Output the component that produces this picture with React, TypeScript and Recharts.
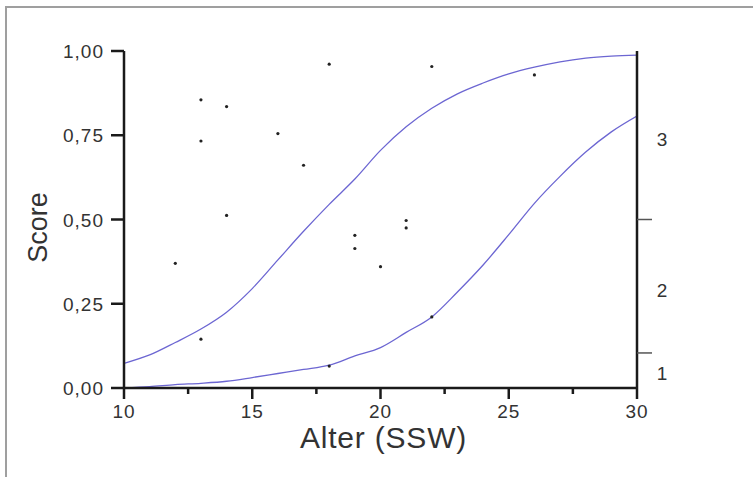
import React from "react";
import { ComposedChart, Line, Scatter, XAxis, YAxis } from "recharts";

// fitted curves, read at whole weeks
const ageSteps = [10, 11, 12, 13, 14, 15, 16, 17, 18, 19, 20, 21, 22, 23, 24, 25, 26, 27, 28, 29, 30];
const upperCurve = [0.073, 0.098, 0.135, 0.175, 0.225, 0.295, 0.38, 0.465, 0.545, 0.62, 0.705, 0.775, 0.83, 0.873, 0.905, 0.932, 0.952, 0.968, 0.979, 0.985, 0.988];
const lowerCurve = [0.0, 0.004, 0.01, 0.014, 0.02, 0.031, 0.043, 0.055, 0.068, 0.095, 0.12, 0.165, 0.211, 0.285, 0.365, 0.455, 0.548, 0.628, 0.7, 0.76, 0.807];

// observed cases
const obsAge = [12, 13, 13, 13, 14, 14, 16, 17, 18, 18, 19, 19, 20, 21, 21, 22, 22, 26];
const obsScore = [0.37, 0.855, 0.733, 0.145, 0.835, 0.512, 0.755, 0.661, 0.961, 0.065, 0.453, 0.414, 0.36, 0.497, 0.475, 0.954, 0.211, 0.929];

const scoreTicks = [0, 0.25, 0.5, 0.75, 1];
const ageMajorTicks = [10, 15, 20, 25, 30];
const ageMinorTicks = [12.5, 17.5, 22.5, 27.5];
const classBounds = [0.104, 0.5];
const classLabels = ["1", "2", "3"];
const classLabelPos = [0.045, 0.29, 0.74];

const curveData = ageSteps.map((x, i) => ({ x, upper: upperCurve[i], lower: lowerCurve[i] }));
const pointData = obsAge.map((x, i) => ({ x, y: obsScore[i] }));
const rightTicks = [...classBounds, ...classLabelPos].sort((a, b) => a - b);

const AXIS = "#1a1a1a";
const TEXT = "#333";
const FONT = "'Liberation Sans', Arial, sans-serif";
const CURVE = "#6c66d2";

const AgeTick = (props: any) => {
  const { x, y, payload } = props;
  const major = ageMajorTicks.includes(payload.value);
  return (
    <g>
      <line x1={x} x2={x} y1={y} y2={y + (major ? 11 : 6)} stroke={AXIS} strokeWidth={2.5} />
      {major && (
        <text x={x} y={y + 30} textAnchor="middle" fontSize={19} letterSpacing={1} fill={TEXT} fontFamily={FONT}>
          {payload.value}
        </text>
      )}
    </g>
  );
};

const ScoreTick = (props: any) => {
  const { x, y, payload } = props;
  return (
    <g>
      <line x1={x - 13} x2={x} y1={y} y2={y} stroke={AXIS} strokeWidth={2.5} />
      <text x={x - 20} y={y + 7} textAnchor="end" fontSize={19} letterSpacing={1} fill={TEXT} fontFamily={FONT}>
        {payload.value.toFixed(2).replace(".", ",")}
      </text>
    </g>
  );
};

const ClassTick = (props: any) => {
  const { x, y, payload } = props;
  const v = payload.value;
  const li = classLabelPos.indexOf(v);
  if (li >= 0) {
    return (
      <text x={x + 25} y={y + 7} textAnchor="middle" fontSize={19} fill={TEXT} fontFamily={FONT}>
        {classLabels[li]}
      </text>
    );
  }
  return <line x1={x} x2={x + 15} y1={y} y2={y} stroke="#555" strokeWidth={1.5} />;
};

const Dot = (props: any) => <circle cx={props.cx} cy={props.cy} r={1.6} fill="#222" />;

export default function App() {
  return (
    <div style={{ position: "relative", margin: -8, width: 753, height: 477, background: "#fff" }}>
      <ComposedChart width={753} height={477} margin={{ top: 51, right: 0, bottom: 0, left: 0 }}>
        <XAxis
          xAxisId="bottom"
          dataKey="x"
          type="number"
          domain={[10, 30]}
          ticks={[...ageMajorTicks, ...ageMinorTicks].sort((a, b) => a - b)}
          interval={0}
          height={89}
          tickSize={0}
          tickMargin={0}
          tick={<AgeTick />}
          axisLine={{ stroke: AXIS, strokeWidth: 2.5 }}
          allowDataOverflow
          label={{
            content: (p: any) => (
              <text
                x={p.viewBox.x + p.viewBox.width / 2 + 3}
                y={p.viewBox.y + 60}
                textAnchor="middle"
                fontSize={30}
                letterSpacing={0.8}
                fill={TEXT}
                fontFamily={FONT}
              >
                Alter (SSW)
              </text>
            ),
          }}
        />
        <XAxis xAxisId="top" orientation="top" type="number" domain={[10, 30]} height={0} tick={false} tickLine={false} axisLine={{ stroke: AXIS, strokeWidth: 2.5 }} />
        <YAxis
          yAxisId="left"
          type="number"
          domain={[0, 1]}
          ticks={scoreTicks}
          interval={0}
          width={124}
          tickSize={0}
          tickMargin={0}
          tick={<ScoreTick />}
          axisLine={{ stroke: AXIS, strokeWidth: 2.5 }}
          label={{
            content: (p: any) => {
              const cx = 38;
              const cy = p.viewBox.y + p.viewBox.height / 2 + 8;
              return (
                <text
                  x={cx}
                  y={cy}
                  transform={`rotate(-90 ${cx} ${cy})`}
                  textAnchor="middle"
                  dominantBaseline="central"
                  fontSize={27}
                  fill={TEXT}
                  fontFamily={FONT}
                >
                  Score
                </text>
              );
            },
          }}
        />
        <YAxis
          yAxisId="right"
          orientation="right"
          type="number"
          domain={[0, 1]}
          ticks={rightTicks}
          interval={0}
          width={116}
          tickSize={0}
          tickMargin={0}
          tick={<ClassTick />}
          axisLine={{ stroke: AXIS, strokeWidth: 2.5 }}
        />
        <Line
          xAxisId="bottom"
          yAxisId="left"
          data={curveData}
          dataKey="upper"
          type="monotone"
          stroke={CURVE}
          strokeWidth={1.3}
          dot={false}
          activeDot={false}
          isAnimationActive={false}
        />
        <Line
          xAxisId="bottom"
          yAxisId="left"
          data={curveData}
          dataKey="lower"
          type="monotone"
          stroke={CURVE}
          strokeWidth={1.3}
          dot={false}
          activeDot={false}
          isAnimationActive={false}
        />
        <Scatter
          xAxisId="bottom"
          yAxisId="right"
          data={pointData}
          dataKey="y"
          shape={<Dot />}
          isAnimationActive={false}
        />
      </ComposedChart>
      {/* light grey frame of the figure, cropped at right and bottom */}
      <div
        style={{
          position: "fixed",
          left: 5,
          top: 6,
          width: 760,
          height: 480,
          borderTop: "2px solid #9f9f9f",
          borderLeft: "2px solid #9f9f9f",
          zIndex: 10,
          pointerEvents: "none",
        }}
      />
    </div>
  );
}
